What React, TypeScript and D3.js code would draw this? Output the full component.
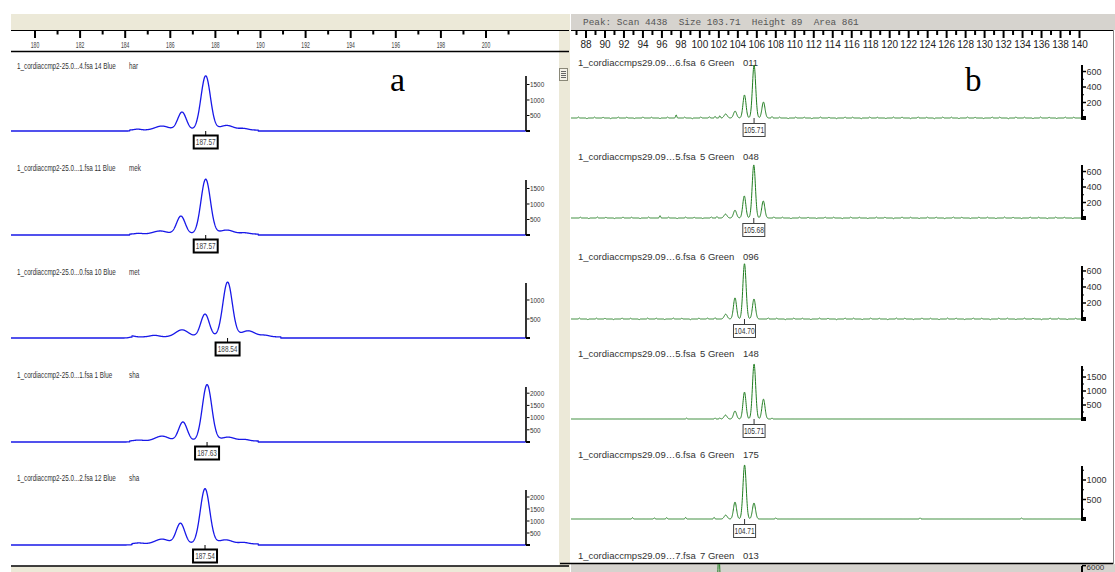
import React from "react";
import * as d3 from "d3";

type Peak = [number, number, number]; // [size (bp), height (RFU), spread (bp)]
type Shelf = [number, number, number]; // [from (bp), to (bp), height (RFU)]
type Blip = [number, number]; // [size (bp), height (RFU)]

// ---------- panel a : blue dye ----------
const blueSizeTicks = d3.range(180, 202);
const blueSizeLabels = d3.range(180, 201, 2);
const blueFiles = [
  "1_cordiaccmp2-25.0...4.fsa 14 Blue",
  "1_cordiaccmp2-25.0...1.fsa 11 Blue",
  "1_cordiaccmp2-25.0...0.fsa 10 Blue",
  "1_cordiaccmp2-25.0...1.fsa 1 Blue",
  "1_cordiaccmp2-25.0...2.fsa 12 Blue",
];
const blueSamples = ["har", "mek", "met", "sha", "sha"];
const blueCalls = [187.57, 187.57, 188.54, 187.63, 187.54];
const blueRfuMax = [1774, 1774, 1447, 2254, 2292];
const blueRfuTicks = [
  [500, 1000, 1500],
  [500, 1000, 1500],
  [500, 1000],
  [500, 1000, 1500, 2000],
  [500, 1000, 1500, 2000],
];
const bluePeaks: Peak[][] = [
  [[184.55, 30, 0.15], [185.63, 130, 0.3], [186.52, 580, 0.19], [187.57, 1750, 0.21], [188.5, 150, 0.3], [189.25, 50, 0.2]],
  [[184.6, 25, 0.15], [185.55, 100, 0.3], [186.47, 580, 0.19], [187.57, 1770, 0.21], [188.5, 130, 0.3], [189.3, 40, 0.2]],
  [[184.3, 25, 0.12], [185.3, 40, 0.2], [186.52, 185, 0.28], [187.54, 600, 0.19], [188.54, 1440, 0.21], [189.45, 160, 0.3], [190.2, 40, 0.2]],
  [[184.6, 40, 0.2], [185.63, 200, 0.3], [186.56, 780, 0.19], [187.63, 2310, 0.21], [188.56, 160, 0.3], [189.3, 60, 0.2]],
  [[184.6, 40, 0.2], [185.63, 200, 0.3], [186.45, 860, 0.19], [187.54, 2300, 0.21], [188.45, 170, 0.3], [189.25, 60, 0.2]],
];
const blueShelves: Shelf[][] = [
  [[184.2, 189.9, 30]],
  [[184.2, 189.9, 30]],
  [[184.3, 190.9, 30]],
  [[184.2, 189.9, 40]],
  [[184.3, 189.9, 45]],
];

// ---------- panel b : green dye ----------
const greenSizeTicks = d3.range(87, 141);
const greenSizeLabels = d3.range(88, 141, 2);
const greenFiles = [
  "1_cordiaccmps29.09…6.fsa",
  "1_cordiaccmps29.09…5.fsa",
  "1_cordiaccmps29.09…6.fsa",
  "1_cordiaccmps29.09…5.fsa",
  "1_cordiaccmps29.09…6.fsa",
  "1_cordiaccmps29.09…7.fsa",
];
const greenLanes = ["6 Green", "5 Green", "6 Green", "5 Green", "6 Green", "7 Green"];
const greenSamples = ["011", "048", "096", "148", "175", "013"];
const greenCalls = [105.71, 105.68, 104.7, 105.71, 104.71];
const greenRfuMax = [684, 684, 662, 1893, 1359, 5960];
const greenRfuTicks = [
  [200, 400, 600],
  [200, 400, 600],
  [200, 400, 600],
  [500, 1000, 1500],
  [500, 1000],
  [6000],
];
const greenPeaks: Peak[][] = [
  [[102.72, 52, 0.16], [103.71, 89, 0.16], [104.7, 297, 0.16], [105.71, 684, 0.17], [106.7, 206, 0.16]],
  [[102.7, 50, 0.16], [103.7, 100, 0.16], [104.68, 285, 0.16], [105.68, 685, 0.17], [106.68, 220, 0.16]],
  [[102.72, 60, 0.16], [103.7, 265, 0.16], [104.7, 690, 0.17], [105.7, 250, 0.16]],
  [[102.7, 140, 0.16], [103.7, 285, 0.16], [104.7, 960, 0.16], [105.71, 1960, 0.17], [106.7, 710, 0.16]],
  [[102.72, 100, 0.16], [103.7, 435, 0.16], [104.71, 1385, 0.17], [105.7, 410, 0.16]],
  [[102.0, 7200, 0.14]],
];
const greenNoise: Blip[][] = [
  [[87.2, 12], [88.1, -9], [88.9, 11], [89.8, 9], [90.6, -8], [91.4, 12], [92.3, 10], [93.1, -7], [94.0, 13], [94.9, 9], [95.8, -8], [96.6, 12], [97.5, 40], [98.4, 11], [99.2, -9], [100.1, 14], [101.0, 16], [101.6, 20], [102.1, 28], [107.6, 18], [108.4, 11], [109.3, -8], [110.1, 12], [111.0, 10], [111.8, -9], [112.7, 13], [113.6, 9], [114.4, -8], [115.3, 12], [116.1, 10], [117.0, -9], [117.9, 13], [118.7, 9], [119.6, -7], [120.4, 12], [121.3, 11], [122.2, -8], [123.0, 14], [123.9, 9], [124.7, -9], [125.6, 12], [126.5, 10], [127.3, -8], [128.2, 13], [129.0, 9], [129.9, -7], [130.8, 12], [131.6, 11], [132.5, -9], [133.3, 13], [134.2, 10], [135.1, -8], [135.9, 12], [136.8, 9], [137.6, -7], [138.5, 11], [139.4, 10]],
  [[87.4, 10], [88.3, -8], [89.2, 12], [90.1, 9], [91.0, -7], [91.9, 11], [92.8, 9], [93.7, -8], [94.6, 12], [95.8, 30], [96.7, 10], [97.6, -8], [98.5, 13], [99.4, 9], [100.3, -7], [101.2, 14], [101.8, 18], [107.8, 15], [108.7, 10], [109.6, -8], [110.5, 12], [111.4, 9], [112.3, -7], [113.2, 11], [114.1, 10], [115.0, -8], [115.9, 12], [116.8, 9], [117.7, -7], [118.6, 11], [119.5, 10], [120.4, -8], [121.3, 12], [122.2, 9], [123.1, -7], [124.0, 12], [124.9, 10], [125.8, -8], [126.7, 13], [127.6, 9], [128.5, -7], [129.4, 11], [130.3, 10], [131.2, -8], [132.1, 12], [133.0, 9], [133.9, -7], [134.8, 11], [135.7, 10], [136.6, -8], [137.5, 12], [138.4, 9], [139.3, -7]],
  [[87.3, 11], [88.2, -8], [89.1, 10], [90.0, 9], [90.9, -7], [91.8, 12], [92.7, 9], [93.6, -8], [94.5, 11], [95.4, 10], [96.3, -7], [97.2, 12], [98.1, 9], [99.0, -8], [99.9, 11], [100.8, 12], [101.6, 16], [107.2, 14], [108.1, 10], [109.0, -8], [109.9, 11], [110.8, 9], [111.7, -7], [112.6, 12], [113.5, 9], [114.4, -8], [115.3, 11], [116.2, 10], [117.1, -7], [118.0, 12], [118.9, 9], [119.8, -8], [120.7, 11], [121.6, 10], [122.5, -7], [123.4, 12], [124.3, 9], [125.2, -8], [126.1, 11], [127.0, 10], [127.9, -7], [128.8, 12], [129.7, 9], [130.6, -8], [131.5, 11], [132.4, 10], [133.3, -7], [134.2, 12], [135.1, 9], [136.0, -8], [136.9, 11], [137.8, 10], [138.7, -7], [139.6, 9]],
  [[98.6, 30], [101.6, 35], [102.1, 40], [107.6, 30]],
  [[92.9, 35], [95.2, 30], [96.5, 35], [98.5, 40], [101.5, 40], [108.0, 30], [123.2, 30], [133.9, 25]],
  [],
];

// ---------- helpers ----------
function rfuAt(size: number, peaks: Peak[], shelves: Shelf[], blips: Blip[], blipSpread: number) {
  let v = 0;
  for (const [c, h, s] of peaks) v += h * Math.exp(-0.5 * ((size - c) / s) ** 2);
  for (const [a, b, h] of shelves) if (size >= a && size <= b) v += h;
  for (const [c, h] of blips) v += h * Math.exp(-0.5 * ((size - c) / blipSpread) ** 2);
  return v;
}

const FONT = "'Liberation Sans', Arial, sans-serif";
const BEIGE = "#ECE9D8";
const GREY = "#D6D3CE";
const BLUE = "#1818e8";
const GREEN = "#1f7d1f";

const xBlue = d3.scaleLinear().domain([180, 200]).range([35, 486]);
const xGreen = d3.scaleLinear().domain([88, 140]).range([586, 1079.5]);

const blueBase = [131, 235, 338, 442, 545];
const blueTitleY = [66, 168, 272, 375, 478];
const greenBase = [118, 218, 319, 419, 519, 619];
const greenTitleY = [62, 156, 256, 353, 454, 555];

const BLUE_X0 = 11;
const BLUE_X1 = 526;
const GREEN_X0 = 571;
const GREEN_X1 = 1082;

function Narrow({ x, y, sx, size, anchor, fill, children }: any) {
  return (
    <text
      transform={`translate(${x},${y}) scale(${sx},1)`}
      fontSize={size}
      fontFamily={FONT}
      textAnchor={anchor || "start"}
      dominantBaseline="central"
      fill={fill || "#333"}
    >
      {children}
    </text>
  );
}

function BlueTrace({ i }: { i: number }) {
  const base = blueBase[i];
  const y = d3.scaleLinear().domain([0, blueRfuMax[i]]).range([base, base - 55]);
  const sizes = d3.range(xBlue.invert(BLUE_X0), xBlue.invert(BLUE_X1), 0.01);
  const line = d3
    .line<number>()
    .x((s) => xBlue(s))
    .y((s) => y(rfuAt(s, bluePeaks[i], blueShelves[i], [], 0.1)));
  const cx = xBlue(blueCalls[i]);
  return (
    <g>
      <Narrow x={17} y={blueTitleY[i]} sx={0.74} size={8.5}>
        {blueFiles[i]}
      </Narrow>
      <Narrow x={129} y={blueTitleY[i]} sx={0.74} size={8.5}>
        {blueSamples[i]}
      </Narrow>
      <path d={line(sizes) || ""} fill="none" stroke={BLUE} strokeWidth={1.3} />
      {/* intensity axis */}
      <line x1={BLUE_X1} x2={BLUE_X1} y1={base} y2={base - 55} stroke="#000" strokeWidth={1.6} />
      <line x1={BLUE_X1} x2={BLUE_X1 + 4} y1={base} y2={base} stroke="#000" strokeWidth={2} />
      {blueRfuTicks[i].map((t) => (
        <g key={t}>
          <line x1={BLUE_X1 + 1} x2={BLUE_X1 + 3.5} y1={y(t)} y2={y(t)} stroke="#000" strokeWidth={1} />
          <Narrow x={BLUE_X1 + 4} y={y(t)} sx={0.8} size={8}>
            {t}
          </Narrow>
        </g>
      ))}
      {/* called size */}
      <line x1={cx} x2={cx} y1={base} y2={base + 4} stroke="#000" strokeWidth={1} />
      <rect x={cx - 12} y={base + 4.5} width={24} height={13} fill="#fff" stroke="#000" strokeWidth={2} />
      <Narrow x={cx} y={base + 11.5} sx={0.68} size={9.5} anchor="middle" fill="#444">
        {blueCalls[i].toFixed(2)}
      </Narrow>
    </g>
  );
}

function GreenTrace({ i }: { i: number }) {
  const base = greenBase[i];
  const y = d3.scaleLinear().domain([0, greenRfuMax[i]]).range([base, base - 53]);
  const sizes = d3.range(xGreen.invert(GREEN_X0), xGreen.invert(GREEN_X1), 0.02);
  const line = d3
    .line<number>()
    .x((s) => xGreen(s))
    .y((s) => y(rfuAt(s, greenPeaks[i], [], greenNoise[i], 0.06)));
  const ticks = greenRfuTicks[i];
  const step = ticks.length > 1 ? ticks[1] - ticks[0] : ticks[0];
  const minor = d3.range(step / 2, greenRfuMax[i], step).filter((v) => !ticks.includes(v));
  const hasCall = i < greenCalls.length;
  const cx = hasCall ? xGreen(greenCalls[i]) : 0;
  return (
    <g>
      <text x={578} y={greenTitleY[i]} fontSize={9.5} fontFamily={FONT} fill="#333" dominantBaseline="central">
        {greenFiles[i]}
      </text>
      <text x={700} y={greenTitleY[i]} fontSize={9.5} fontFamily={FONT} fill="#333" dominantBaseline="central">
        {greenLanes[i]}
      </text>
      <text x={743} y={greenTitleY[i]} fontSize={9.5} fontFamily={FONT} fill="#333" dominantBaseline="central">
        {greenSamples[i]}
      </text>
      <g clipPath={hasCall ? undefined : "url(#lastLane)"}>
        <path d={line(sizes) || ""} fill="none" stroke={GREEN} strokeWidth={1} />
        <line x1={GREEN_X1} x2={GREEN_X1} y1={base} y2={base - 53} stroke="#000" strokeWidth={2} />
        <rect x={GREEN_X1 - 1} y={base - 2} width={5} height={4} fill="#000" />
        {ticks.map((t) => (
          <line key={t} x1={GREEN_X1} x2={GREEN_X1 + 4} y1={y(t)} y2={y(t)} stroke="#000" strokeWidth={1.5} />
        ))}
        {minor.map((t) => (
          <line key={t} x1={GREEN_X1} x2={GREEN_X1 + 2} y1={y(t)} y2={y(t)} stroke="#000" strokeWidth={1} />
        ))}
      </g>
      {ticks.map((t) => (
        <text
          key={t}
          x={GREEN_X1 + 4.5}
          y={hasCall ? y(t) : 567.5}
          fontSize={hasCall ? 9 : 8}
          fontFamily={FONT}
          fill="#333"
          dominantBaseline="central"
        >
          {t}
        </text>
      ))}
      {hasCall && (
        <g>
          <line x1={cx} x2={cx} y1={base} y2={base + 5} stroke="#333" strokeWidth={1} />
          <rect x={cx - 11} y={base + 5.5} width={22} height={13} fill="#fff" stroke="#444" strokeWidth={1} />
          <Narrow x={cx} y={base + 12} sx={0.7} size={9.5} anchor="middle" fill="#333">
            {greenCalls[i].toFixed(2)}
          </Narrow>
        </g>
      )}
    </g>
  );
}

export default function App() {
  return (
    <div style={{ position: "absolute", left: 0, top: 0 }}>
      <svg width={1115} height={572} style={{ display: "block", background: "#fff" }}>
        <defs>
          <clipPath id="lastLane">
            <rect x={560} y={564} width={560} height={10} />
          </clipPath>
        </defs>

        {/* window chrome, panel a */}
        <rect x={11} y={14} width={559} height={16} fill={BEIGE} />
        <rect x={559} y={14} width={11} height={558} fill={BEIGE} />
        <rect x={11} y={566.5} width={559} height={6} fill={BEIGE} />
        <line x1={11} x2={569} y1={566} y2={566} stroke="#000" strokeWidth={1.5} />
        <g>
          <rect x={559.5} y={68.5} width={8} height={12} fill="#f4f2e8" stroke="#8a8878" strokeWidth={1} />
          {[71.5, 73.5, 75.5, 77.5].map((yy) => (
            <line key={yy} x1={561} x2={566} y1={yy} y2={yy} stroke="#666" strokeWidth={1} />
          ))}
        </g>

        {/* window chrome, panel b */}
        <rect x={571} y={14} width={544} height={16} fill={GREY} />
        <text x={583} y={25} fontSize={9.4} fontFamily="'Liberation Mono', 'Courier New', monospace" fill="#555" xmlSpace="preserve">
          Peak: Scan 4438  Size 103.71  Height 89  Area 861
        </text>
        <rect x={571} y={564} width={544} height={8} fill={GREY} />
        <line x1={560} x2={1113} y1={563.5} y2={563.5} stroke="#000" strokeWidth={1.3} />
        <line x1={1113.5} x2={1113.5} y1={30} y2={564} stroke="#888" strokeWidth={1} />

        {/* size ruler, panel a */}
        <line x1={11} x2={569} y1={30.5} y2={30.5} stroke="#000" strokeWidth={1.2} />
        <line x1={11} x2={569} y1={51.5} y2={51.5} stroke="#000" strokeWidth={1.5} />
        {blueSizeTicks.map((t) => {
          const major = t % 2 === 0;
          return (
            <line key={t} x1={xBlue(t)} x2={xBlue(t)} y1={31} y2={major ? 38 : 34.5} stroke="#000" strokeWidth={2} />
          );
        })}
        {blueSizeLabels.map((t) => (
          <Narrow key={t} x={xBlue(t)} y={44.5} sx={0.6} size={8.5} anchor="middle" fill="#444">
            {t}
          </Narrow>
        ))}

        {/* size ruler, panel b */}
        <line x1={571} x2={1113} y1={30.5} y2={30.5} stroke="#000" strokeWidth={1} />
        {greenSizeTicks.map((t) => {
          const major = t % 2 === 0;
          return (
            <line key={t} x1={xGreen(t)} x2={xGreen(t)} y1={31} y2={major ? 38 : 35} stroke="#000" strokeWidth={2} />
          );
        })}
        {greenSizeLabels.map((t) => (
          <text key={t} x={xGreen(t)} y={44.5} fontSize={10} fontFamily={FONT} textAnchor="middle" dominantBaseline="central" fill="#222">
            {t}
          </text>
        ))}

        {blueFiles.map((_, i) => (
          <BlueTrace key={i} i={i} />
        ))}
        {greenFiles.map((_, i) => (
          <GreenTrace key={i} i={i} />
        ))}

        <text x={390} y={91} fontSize={34} fontFamily="'Liberation Serif', 'Times New Roman', serif" fill="#000">
          a
        </text>
        <text x={965} y={91} fontSize={33} fontFamily="'Liberation Serif', 'Times New Roman', serif" fill="#000">
          b
        </text>
      </svg>
    </div>
  );
}
